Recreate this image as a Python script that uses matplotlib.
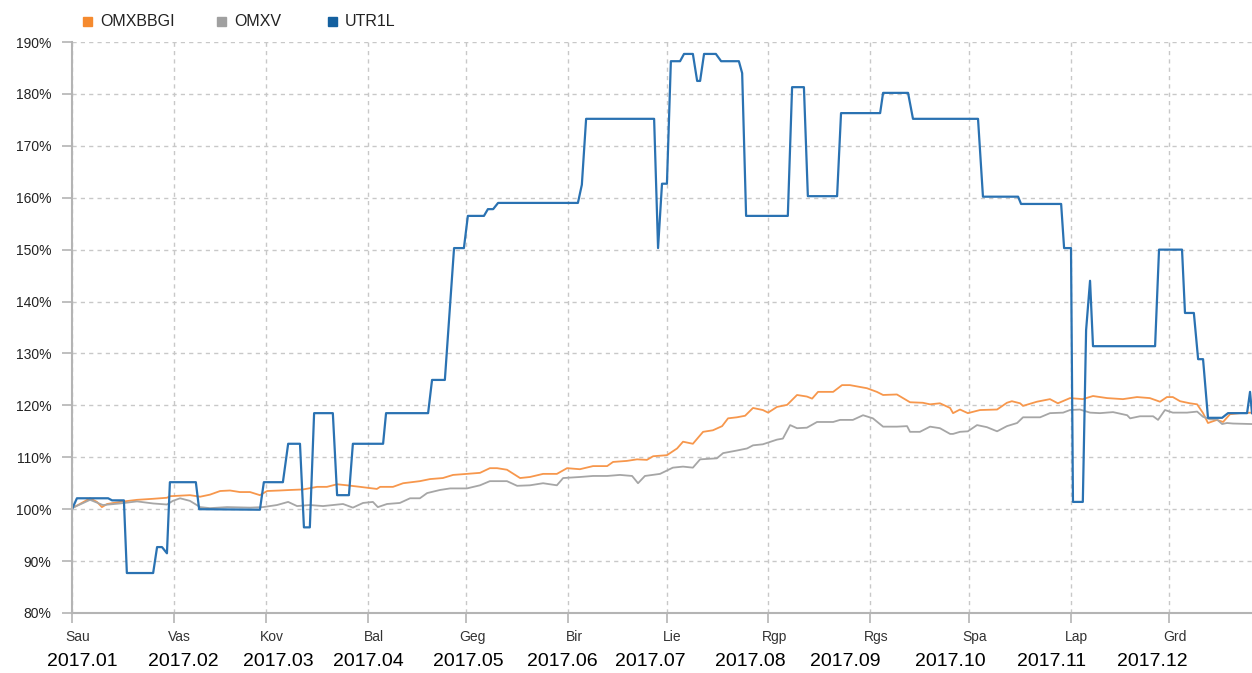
import numpy as np
import pandas as pd
import matplotlib
matplotlib.use("Agg")
import matplotlib.pyplot as plt
import matplotlib.dates as mdates
import matplotlib.transforms as mtransforms
from matplotlib.patches import Rectangle

plt.rcParams['font.family'] = ['Liberation Sans', 'DejaVu Sans']

# data: day offsets from 2017-01-01, values in %
utr_days = [0, 1.5, 11.0, 12.2, 15.8, 16.7, 24.7, 25.9, 27.4, 28.9, 29.8, 37.7, 38.7,
            57.2, 58.4, 64.2, 65.8, 69.4, 70.6, 72.4, 73.7, 79.4, 80.7, 84.3, 85.5,
            94.7, 95.6, 108.4, 109.6, 113.5, 116.3, 119.3, 120.5, 125.4, 126.6, 128.2,
            129.7, 154.0, 155.2, 156.5, 177.2, 178.4, 179.6, 181.1, 182.3, 185.1,
            186.3, 189.0, 190.3, 191.2, 192.4, 196.0, 197.6, 203.0, 204.0, 205.2,
            217.9, 219.2, 222.8, 224.0, 232.9, 234.1, 246.0, 246.9, 254.5, 256.0,
            275.8, 277.3, 288.0, 288.9, 301.1, 302.0, 304.1, 304.7, 307.7, 308.7,
            309.9, 310.8, 329.7, 330.9, 337.9, 338.8, 341.5, 342.8, 344.3, 345.8,
            350.1, 351.9, 357.7, 358.6, 359.2]
utr_vals = [100, 102.1, 102.1, 101.7, 101.7, 87.7, 87.7, 92.7, 92.7, 91.5, 105.2, 105.2, 100.0,
            99.9, 105.2, 105.2, 112.6, 112.6, 96.5, 96.5, 118.5, 118.5, 102.7, 102.7, 112.6,
            112.6, 118.5, 118.5, 124.9, 124.9, 150.3, 150.3, 156.5, 156.5, 157.8, 157.8,
            159.0, 159.0, 162.5, 175.2, 175.2, 150.3, 162.7, 162.7, 186.3, 186.3,
            187.7, 187.7, 182.5, 182.5, 187.7, 187.7, 186.3, 186.3, 184.0, 156.5,
            156.5, 181.3, 181.3, 160.3, 160.3, 176.3, 176.3, 180.2, 180.2, 175.2,
            175.2, 160.2, 160.2, 158.8, 158.8, 150.3, 150.3, 101.4, 101.4, 134.5,
            144.0, 131.4, 131.4, 150.0, 150.0, 137.8, 137.8, 128.9, 128.9, 117.6,
            117.6, 118.5, 118.5, 122.6, 118.5]

omxbbgi_days = [0, 2.4, 5.5, 7.6, 9.1, 10.7, 14.6, 19.8, 24.7, 28.9, 29.8, 35.9, 39.0, 42.0,
                45.1, 48.1, 51.1, 54.2, 57.2, 59.4, 63.3, 66.4, 70.3, 74.6, 77.6, 80.7,
                83.7, 87.7, 92.8, 93.8, 97.7, 100.8, 105.9, 109.0, 112.9, 116.0, 120.2,
                124.2, 127.2, 129.4, 132.4, 136.4, 139.4, 143.4, 147.6, 150.7, 154.6,
                158.6, 162.9, 164.7, 168.9, 172.0, 175.0, 176.9, 179.0, 181.1, 184.2,
                186.0, 189.0, 192.1, 195.1, 197.9, 199.7, 202.4, 204.9, 207.3, 210.3,
                211.9, 214.6, 217.7, 220.7, 223.7, 225.3, 227.1, 231.7, 234.4, 236.8,
                242.0, 245.0, 246.9, 251.1, 255.1, 259.0, 261.2, 264.2, 267.3, 268.2,
                270.3, 272.7, 276.4, 281.6, 284.6, 286.1, 288.6, 289.5, 293.7, 297.7,
                300.1, 303.8, 307.7, 310.8, 315.1, 319.9, 324.2, 328.1, 331.2, 333.3,
                335.1, 337.3, 340.3, 342.5, 344.3, 345.8, 348.5, 350.4, 352.5, 355.5, 359.2]
omxbbgi_vals = [100.2, 101.0, 102.1, 101.4, 100.4, 101.0, 101.4, 101.8, 102.0, 102.2, 102.5,
                102.7, 102.4, 102.8, 103.5, 103.6, 103.3, 103.3, 102.7, 103.5, 103.6, 103.7,
                103.8, 104.3, 104.3, 104.8, 104.6, 104.3, 103.9, 104.3, 104.3, 105.0, 105.4,
                105.8, 106.0, 106.6, 106.8, 107.0, 107.9, 107.9, 107.6, 106.0, 106.2, 106.8,
                106.8, 107.9, 107.7, 108.3, 108.3, 109.1, 109.3, 109.6, 109.5, 110.2, 110.3,
                110.4, 111.7, 113.0, 112.6, 114.9, 115.2, 116.0, 117.5, 117.7, 118.0, 119.5,
                119.1, 118.6, 119.7, 120.1, 122.0, 121.7, 121.3, 122.6, 122.6, 123.9, 123.9,
                123.3, 122.6, 122.0, 122.1, 120.6, 120.5, 120.2, 120.4, 119.5, 118.5, 119.2,
                118.5, 119.1, 119.2, 120.5, 120.8, 120.4, 119.9, 120.7, 121.2, 120.4, 121.4,
                121.2, 121.8, 121.4, 121.2, 121.6, 121.4, 120.7, 121.6, 121.6, 120.8, 120.4,
                120.2, 118.5, 116.6, 117.2, 116.8, 118.3, 118.5, 118.6]

omxv_days = [0, 5.5, 9.4, 14.6, 19.8, 24.7, 28.9, 30.7, 32.9, 35.9, 39.0, 42.0, 47.2, 54.2,
             58.1, 62.4, 65.8, 68.5, 72.4, 76.4, 82.5, 85.5, 88.6, 91.6, 93.1, 95.9, 99.8,
             102.9, 105.9, 108.1, 112.0, 115.1, 120.2, 124.2, 127.2, 132.4, 135.5, 139.4,
             143.4, 147.6, 149.5, 154.6, 158.6, 162.9, 166.8, 170.5, 172.3, 174.4, 179.0,
             182.9, 186.0, 189.0, 191.2, 196.3, 198.2, 202.4, 205.5, 207.3, 210.3, 214.6,
             216.4, 218.6, 220.7, 223.7, 226.8, 231.7, 233.8, 237.7, 240.8, 243.8, 246.9,
             251.1, 254.2, 255.1, 258.1, 261.2, 264.2, 267.3, 268.2, 270.3, 272.7, 275.5,
             278.5, 281.6, 284.6, 287.7, 289.5, 294.7, 297.7, 301.7, 303.8, 306.8, 309.9,
             312.9, 316.9, 321.2, 322.1, 325.1, 329.1, 330.6, 332.7, 335.1, 339.4, 342.5,
             344.3, 346.4, 348.5, 350.1, 351.6, 353.4, 359.2]
omxv_vals = [100.2, 101.8, 100.8, 101.1, 101.5, 101.1, 100.9, 101.6, 102.1, 101.6, 100.4,
             100.2, 100.4, 100.3, 100.4, 100.8, 101.4, 100.6, 100.8, 100.6, 101.0, 100.3,
             101.2, 101.4, 100.4, 101.0, 101.2, 102.1, 102.1, 103.1, 103.7, 104.0, 104.0,
             104.6, 105.4, 105.4, 104.5, 104.6, 105.0, 104.6, 106.0, 106.2, 106.4, 106.4,
             106.6, 106.4, 105.0, 106.4, 106.8, 108.0, 108.2, 108.0, 109.6, 109.8, 110.8,
             111.3, 111.7, 112.3, 112.5, 113.4, 113.6, 116.2, 115.6, 115.7, 116.8, 116.8,
             117.2, 117.2, 118.1, 117.5, 115.9, 115.9, 116.0, 114.9, 114.9, 115.9, 115.6,
             114.5, 114.5, 114.9, 115.0, 116.2, 115.8, 115.0, 116.0, 116.6, 117.7, 117.7,
             118.5, 118.6, 119.1, 119.2, 118.6, 118.5, 118.7, 118.1, 117.5, 117.9, 117.9,
             117.2, 119.1, 118.6, 118.6, 118.8, 117.8, 117.3, 117.3, 116.4, 116.6, 116.5,
             116.4]

month_labels = ['Sau', 'Vas', 'Kov', 'Bal', 'Geg', 'Bir', 'Lie', 'Rgp', 'Rgs', 'Spa', 'Lap', 'Grd']
period_labels = ['2017.01', '2017.02', '2017.03', '2017.04', '2017.05', '2017.06',
                 '2017.07', '2017.08', '2017.09', '2017.10', '2017.11', '2017.12']
series_names = ['OMXBBGI', 'OMXV', 'UTR1L']
colors = ['#f7974c', '#a6a6a6', '#2a72b2']
legend_colors = ['#f58a2e', '#a0a0a0', '#14609f']

base = pd.Timestamp('2017-01-01')


def to_dates(days):
    return base + pd.to_timedelta(np.array(days), unit='D')


W, H = 1252, 673
fig = plt.figure(figsize=(W / 100, H / 100), dpi=100)
ax = fig.add_axes([72 / W, 1 - 613 / H, (W - 72) / W, (613 - 42) / H])

ax.plot(to_dates(omxbbgi_days), omxbbgi_vals, color=colors[0], lw=1.3)
ax.plot(to_dates(omxv_days), omxv_vals, color=colors[1], lw=1.3)
ax.plot(to_dates(utr_days), utr_vals, color=colors[2], lw=1.6)

ax.set_xlim(base, base + pd.Timedelta(days=359.2))
ax.set_ylim(80, 190)
ax.set_yticks(np.arange(80, 191, 10))
ax.set_yticklabels([f'{v}%' for v in range(80, 191, 10)], fontsize=10, color='#222222')

month_starts = pd.date_range('2017-01-01', periods=12, freq='MS')
ax.set_xticks(month_starts)
ax.set_xticklabels([])

# month names, a little right of each tick
offset = mtransforms.ScaledTranslation(6 / 100, 0, fig.dpi_scale_trans)
trans = ax.get_xaxis_transform() + offset
for d, t in zip(month_starts, month_labels):
    ax.text(d, 1 - (637 - 42) / (613 - 42), t, transform=trans, fontsize=10,
            color='#333333', ha='center', va='center', clip_on=False)

ax.grid(True, color='#c8c8c8', linestyle=(0, (3, 3)), linewidth=1)
ax.tick_params(axis='both', direction='out', length=7, color='#b4b4b4', width=1.2)
ax.tick_params(axis='y', pad=8)
for side in ['top', 'right']:
    ax.spines[side].set_visible(False)
for side in ['left', 'bottom']:
    ax.spines[side].set_color('#b4b4b4')
    ax.spines[side].set_linewidth(1.5)

# legend at top
leg_x = [83, 217, 328]
for x, name, c in zip(leg_x, series_names, legend_colors):
    fig.patches.append(Rectangle((x / W, 1 - 26 / H), 9 / W, 9 / H,
                                 transform=fig.transFigure, color=c))
    fig.text((x + 17) / W, 1 - 21.5 / H, name, fontsize=11.5, color='#222222',
             va='center', ha='left')

# period labels under the month ticks
period_x = [82, 183, 278, 368, 468, 562, 650, 750, 845, 950, 1052, 1152]
for x, t in zip(period_x, period_labels):
    fig.text(x / W, 1 - 662 / H, t, fontsize=14, color='black', ha='center', va='center')

fig.savefig('out.png', dpi=100)
